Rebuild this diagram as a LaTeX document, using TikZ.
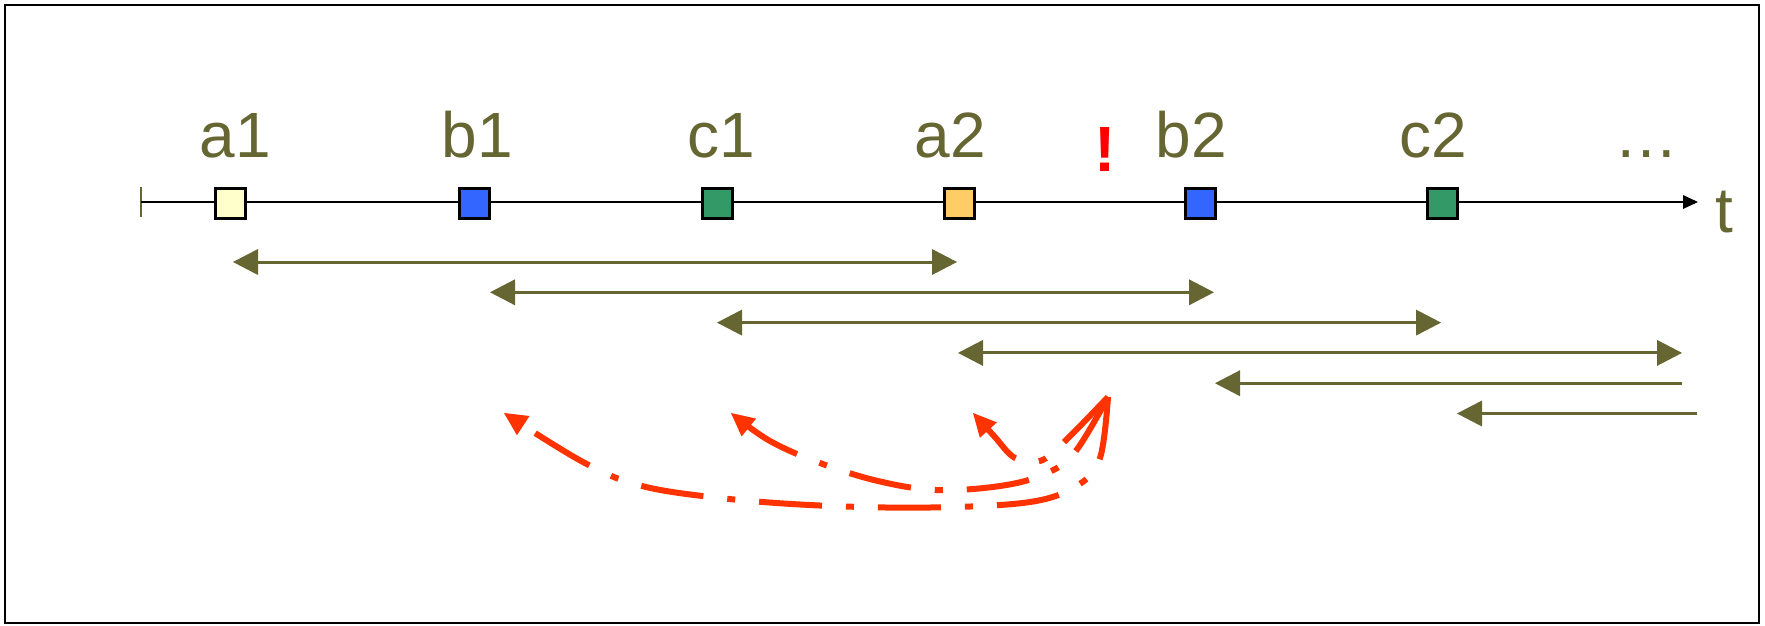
\documentclass[tikz,border=0pt]{standalone}
\usepackage{fontspec}
\setmainfont{Liberation Sans}
\usetikzlibrary{arrows.meta}
\definecolor{olivetxt}{RGB}{102,102,51}
\definecolor{redarr}{RGB}{255,51,0}
\definecolor{sqyellow}{RGB}{255,255,204}
\definecolor{sqblue}{RGB}{51,102,255}
\definecolor{sqgreen}{RGB}{51,153,102}
\definecolor{sqorange}{RGB}{255,204,102}
\begin{document}
\begin{tikzpicture}[x=1pt,y=-1pt,
  lbl/.style={text=olivetxt,font=\fontsize{64}{70}\selectfont,inner sep=0pt,anchor=base},
  sq/.style={draw=black,line width=3pt,minimum size=30pt,inner sep=0pt},
  gtip/.style={Triangle[length=25pt,width=26pt,line width=0pt]},
  span/.style={draw=olivetxt,line width=3pt},
  both/.style={span,{Triangle[length=25pt,width=26pt,line width=0pt]}-{Triangle[length=25pt,width=26pt,line width=0pt]}},
  leftonly/.style={span,{Triangle[length=25pt,width=26pt,line width=0pt]}-},
  redcurve/.style={draw=redarr,line width=6pt,dash pattern=on 63pt off 24pt on 8pt off 24pt,
    -{Triangle[length=23pt,width=23pt,line width=0pt]}}
]
\useasboundingbox (0,0) rectangle (1765,625);
\draw[line width=2.5pt] (5,5) rectangle (1759,623);

% time axis
\coordinate (t0) at (141,202);
\coordinate (tend) at (1698,202);
\draw[olivetxt,line width=2pt] (141,187) -- (141,217);
\draw[line width=2pt,-{Triangle[length=15pt,width=14pt,line width=0pt]}] (t0) -- (tend);

% squares
\node[sq,fill=sqyellow] (a1) at (230.5,203) {};
\node[sq,fill=sqblue]   (b1) at (474.5,203) {};
\node[sq,fill=sqgreen]  (c1) at (717,203) {};
\node[sq,fill=sqorange] (a2) at (959,203) {};
\node[sq,fill=sqblue]   (b2) at (1200.5,203) {};
\node[sq,fill=sqgreen]  (c2) at (1442,203) {};

% labels
\node[lbl] (la1) at (235.5,157) {a1};
\node[lbl] (lb1) at (477.5,157) {b1};
\node[lbl] (lc1) at (721,157) {c1};
\node[lbl] (la2) at (950,157) {a2};
\node[lbl] (lb2) at (1191.5,157) {b2};
\node[lbl] (lc2) at (1433,157) {c2};
\node[lbl] (ldots) at (1646,157) {…};
\node[lbl] (lt) at (1724,232) {t};
\node[lbl,text=red,font=\fontsize{64}{70}\selectfont\bfseries] (excl) at (1105,171) {!};

% window spans
\coordinate (w1l) at (233,262);   \coordinate (w1r) at (957,262);
\coordinate (w2l) at (490,292.3); \coordinate (w2r) at (1214,292.3);
\coordinate (w3l) at (717,322.6); \coordinate (w3r) at (1441,322.6);
\coordinate (w4l) at (958,352.9); \coordinate (w4r) at (1682,352.9);
\coordinate (w5l) at (1215,383.2); \coordinate (w5r) at (1682,383.2);
\coordinate (w6l) at (1457,413.5); \coordinate (w6r) at (1697,413.5);
\draw[both] (w1l) -- (w1r);
\draw[both] (w2l) -- (w2r);
\draw[both] (w3l) -- (w3r);
\draw[both] (w4l) -- (w4r);
\draw[leftonly] (w5l) -- (w5r);
\draw[leftonly] (w6l) -- (w6r);

% red curved arrows
\coordinate (O) at (1108,397);
\coordinate (tipA) at (504,413);
\coordinate (tipB) at (731,413);
\coordinate (tipC) at (973,413);
\draw[redcurve] plot[smooth,tension=0.6] coordinates {(O) (1100,458) (1078,485) (1030,502) (930,507.5) (820,505.5) (720,498) (640,485.5) (583,462) (tipA)};
\draw[redcurve] plot[smooth,tension=0.6] coordinates {(O) (1075,452) (1045,474) (1000,486) (936,490) (878,481) (820,463) (770,441) (tipB)};
\draw[redcurve] plot[smooth,tension=0.6] coordinates {(O) (1064,442) (1040,461) (1015,458) (994,436) (tipC)};
\end{tikzpicture}
\end{document}
